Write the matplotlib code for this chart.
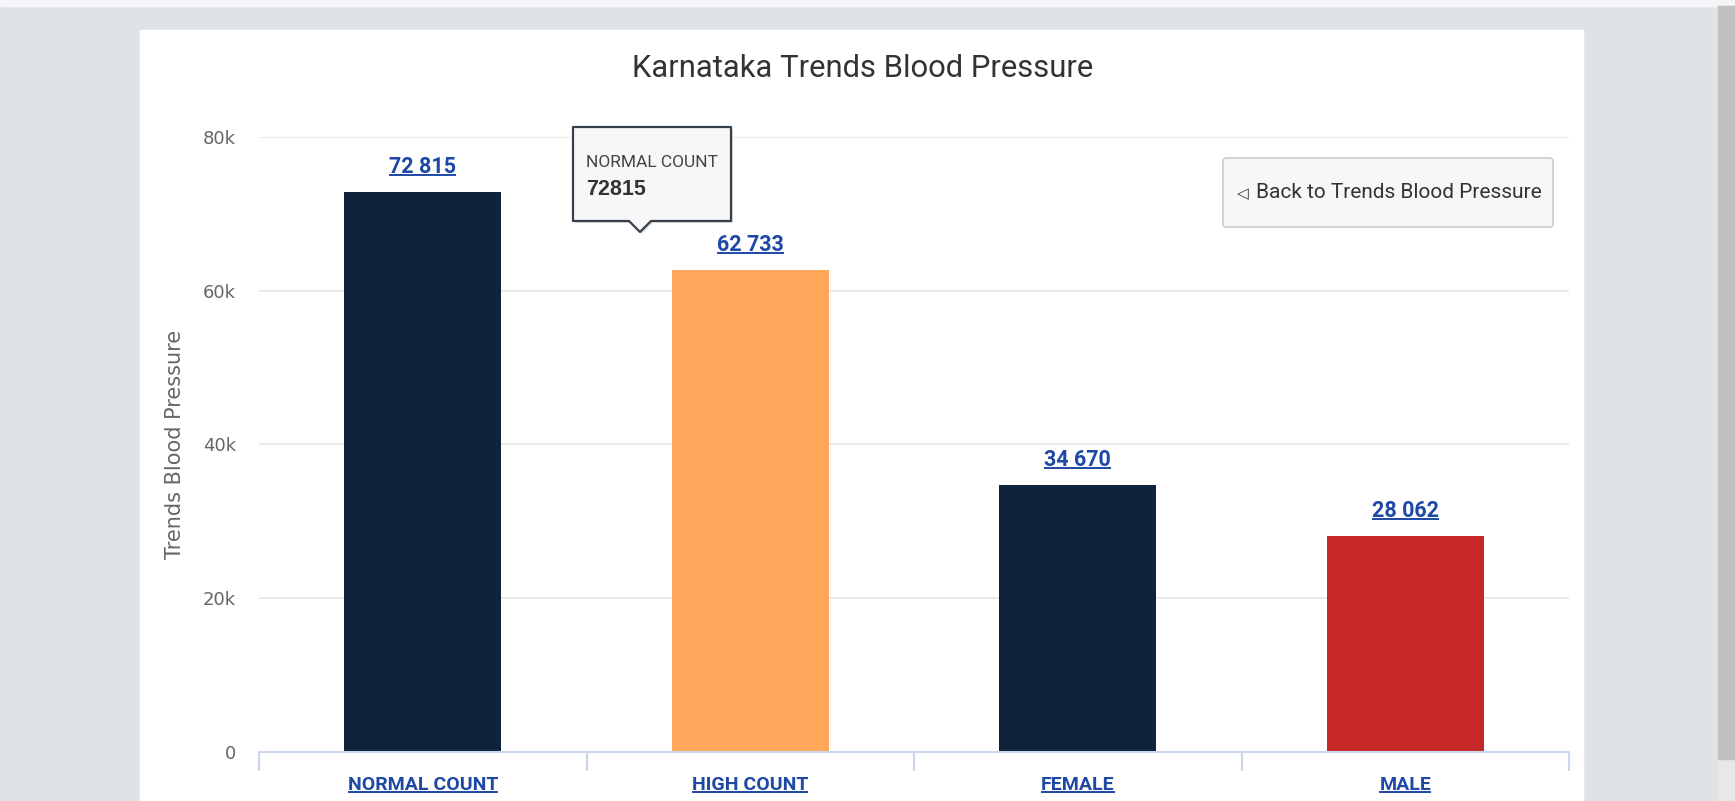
import numpy as np
import matplotlib
matplotlib.use("Agg")
import matplotlib.pyplot as plt
from matplotlib.patches import Rectangle, FancyBboxPatch, Polygon

categories = ["NORMAL COUNT", "HIGH COUNT", "FEMALE", "MALE"]
counts = [72815, 62733, 34670, 28062]
bar_colors = ["#0f243c", "#ffa75b", "#0f243c", "#c62828"]
y_ticks = [0, 20000, 40000, 60000, 80000]
y_tick_labels = ["0", "20k", "40k", "60k", "80k"]

W, H = 1735, 801
narrow = ["Roboto", "DejaVu Sans"]
link = "#1d48a6"

fig = plt.figure(figsize=(W / 100, H / 100), dpi=100, facecolor="#dfe3e8")

# page behind the chart, pixel coords with y pointing down
bg = fig.add_axes([0, 0, 1, 1], zorder=0)
bg.set_xlim(0, W)
bg.set_ylim(H, 0)
bg.axis("off")
bg.add_patch(Rectangle((0, 0), W, 6, color="#f4f5f7"))
bg.add_patch(Rectangle((140, 30), 1443, H - 30, color="white"))
bg.add_patch(Rectangle((1718, 6), W - 1718, H, color="#e8e8e8"))
bg.add_patch(Rectangle((1718, 6), W - 1718, 753, color="#c1c1c1"))

# chart
left, right, top, bottom = 259, 1569, 137, 752
ax = fig.add_axes([left / W, 1 - bottom / H, (right - left) / W, (bottom - top) / H], zorder=1)
ax.patch.set_visible(False)
x = np.arange(len(categories))
ax.bar(x, counts, width=0.48, color=bar_colors, zorder=2)
ax.set_xlim(-0.5, len(categories) - 0.5)
ax.set_ylim(0, 80000)
ax.set_yticks(y_ticks)
ax.set_yticklabels(y_tick_labels)
ax.yaxis.grid(True, color="#e6e6e6", lw=1.2)
ax.set_axisbelow(True)
for s in ["top", "right", "left"]:
    ax.spines[s].set_visible(False)
ax.spines["bottom"].set_color("#ccd6eb")
ax.spines["bottom"].set_linewidth(1.5)
ax.spines["bottom"].set_zorder(3)
ax.tick_params(axis="y", length=0, pad=16.5, labelsize=13, labelcolor="#666666")
ax.set_xticks(x)
ax.set_xticklabels([])
ax.tick_params(axis="x", which="major", length=0)
ax.set_xticks(np.arange(len(categories) + 1) - 0.5, minor=True)
ax.tick_params(axis="x", which="minor", length=14, color="#ccd6eb", width=1.5)

fig.text(175 / W, 1 - 444 / H, "Trends Blood Pressure", rotation=90, ha="center", va="center",
         fontsize=15, color="#666666")

links = []
for i, v in enumerate(counts):
    t = ax.annotate(f"{v:,}".replace(",", " "), (i, v), xytext=(0, 19 * 0.72), textcoords="offset points",
                    ha="center", va="baseline", fontsize=15.5, fontweight="bold", color=link, family=narrow)
    links.append((t, ax.transData.transform((i, v))[1] + 19))
    t = ax.annotate(categories[i], (i, 0), xytext=(0, -38 * 0.72), textcoords="offset points",
                    ha="center", va="baseline", fontsize=14, fontweight="bold", color=link, family=narrow)
    links.append((t, ax.transData.transform((i, 0))[1] - 38))

# overlay: title, tooltip, button, underlines
ov = fig.add_axes([0, 0, 1, 1], zorder=3)
ov.set_xlim(0, W)
ov.set_ylim(H, 0)
ov.axis("off")
ov.patch.set_visible(False)

ov.text(863, 77, "Karnataka Trends Blood Pressure", ha="center", va="baseline",
        fontsize=22.3, color="#333333", family=narrow)

tip = [(573, 127), (731, 127), (731, 221), (651, 221), (640, 232), (629, 221), (573, 221)]
ov.add_patch(Polygon([(px + 2, py + 2) for px, py in tip], closed=True, fc="#000000", alpha=0.12, lw=0))
ov.add_patch(Polygon(tip, closed=True, fc="#f7f7f7", ec="#34404c", lw=1.6, joinstyle="round"))
ov.text(586, 167, categories[0], ha="left", va="baseline", fontsize=12.5, color="#444444", family=narrow)
ov.text(586, 195, str(counts[0]), ha="left", va="baseline", fontsize=15.5, fontweight="bold",
        color="#333333", family=["Liberation Sans", "DejaVu Sans"])

ov.add_patch(FancyBboxPatch((1223, 158), 330, 69, boxstyle="round,pad=0,rounding_size=3",
                            fc="#f7f7f7", ec="#cccccc", lw=1.2))
ov.text(1237, 198, "\u25c1", ha="left", va="baseline", fontsize=11, color="#333333")
ov.text(1256, 198, "Back to Trends Blood Pressure", ha="left", va="baseline",
        fontsize=15, color="#333333", family=narrow)

fig.canvas.draw()
renderer = fig.canvas.get_renderer()
for t, base in links:
    bb = t.get_window_extent(renderer)
    yy = H - (base - 2)
    ov.plot([bb.x0, bb.x1], [yy, yy], color=link, lw=1.4, solid_capstyle="butt")

fig.savefig("out.png", dpi=100, facecolor=fig.get_facecolor())
